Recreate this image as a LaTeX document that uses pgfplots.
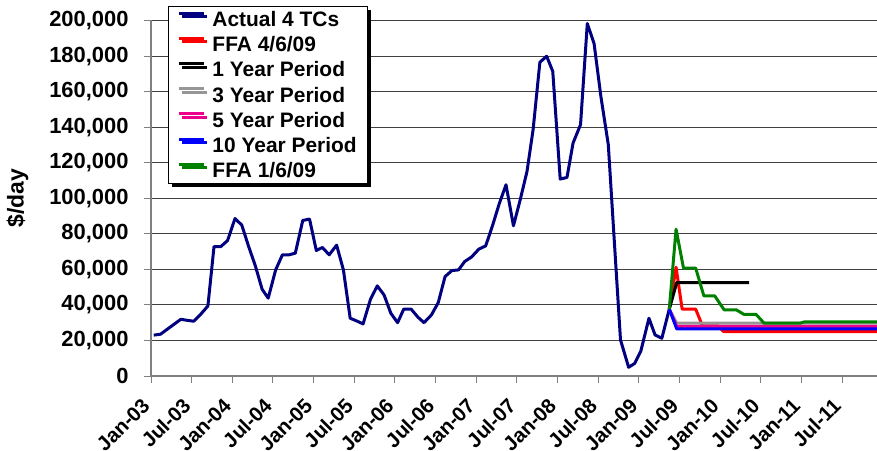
\documentclass[border=0pt]{standalone}
\usepackage{fontspec}
\setmainfont{Liberation Sans}
\usepackage{pgfplots}
\pgfplotsset{compat=1.18}
\usetikzlibrary{shadows}
\definecolor{navyc}{RGB}{0,0,128}
\definecolor{grayc}{RGB}{150,150,150}
\definecolor{greenc}{RGB}{0,128,0}
\definecolor{axisgray}{RGB}{128,128,128}
\begin{document}
\begin{tikzpicture}
\useasboundingbox (0,0) rectangle (877bp,451bp);
\begin{axis}[
  at={(151bp,75bp)}, anchor=south west,
  scale only axis, width=726bp, height=355.5bp,
  xmin=0, xmax=107.16, ymin=0, ymax=200000,
  axis x line*=bottom, axis y line*=left,
  axis line style={-, draw=axisgray, line width=1.2bp},
  xtick={0,6,...,102},
  xticklabels={Jan-03,Jul-03,Jan-04,Jul-04,Jan-05,Jul-05,Jan-06,Jul-06,Jan-07,Jul-07,Jan-08,Jul-08,Jan-09,Jul-09,Jan-10,Jul-10,Jan-11,Jul-11},
  ytick={0,20000,...,200000},
  scaled y ticks=false,
  /pgf/number format/assume math mode=true,
  tick label style={font=\fontsize{22}{26}\selectfont\bfseries},
  yticklabel style={xshift=-12bp, /pgf/number format/.cd, fixed, 1000 sep={,}},
  xticklabel style={rotate=45, anchor=east, xshift=-13.5bp, yshift=-10bp, font=\fontsize{20.5}{24}\selectfont\bfseries},
  tick align=outside, major tick length=7bp,
  tick style={draw=axisgray, line width=1bp},
  ymajorgrids, major grid style={draw=black!75, line width=0.9bp},
  ylabel={\$/day},
  ylabel style={at={(axis description cs:-0.1839,0.5)}, anchor=center, font=\fontsize{23}{27}\selectfont\bfseries},
  legend style={at={(axis description cs:0.0234,1.0408)}, anchor=north west,
    draw=black, line width=1bp, fill=white,
    font=\fontsize{21}{25}\selectfont\bfseries,
    inner xsep=9bp, inner ysep=3bp, row sep=4.5bp, column sep=5bp,
    general shadow={fill=black, shadow xshift=3.5bp, shadow yshift=-3.5bp}},
  legend cell align=left,
  legend image code/.code={\draw[#1, line width=3bp] (0bp,6.5bp) -- (25bp,6.5bp);},
  every axis plot/.append style={line width=3bp, line join=round, mark=none},
]
\addplot[navyc] coordinates {
(0.4,23000) (1.4,23500) (2.4,26300) (3.4,29100) (4.4,31900) (5.4,31300) (6.3,30800)
(7.4,35000) (8.4,39400) (9.3,72800) (10.3,72800) (11.3,76200) (12.4,88600) (13.4,84900)
(14.4,73000) (15.4,62000) (16.4,48800) (17.3,43800) (18.4,59700) (19.4,68200) (20.4,68200)
(21.3,69100) (22.4,87500) (23.4,88300) (24.4,70600) (25.3,72300) (26.3,68200) (27.4,73600)
(28.4,59700) (29.4,32500) (30.4,30900) (31.3,29300) (32.4,43200) (33.4,50700) (34.4,45600)
(35.4,35300) (36.4,30000) (37.3,37600) (38.4,37600) (39.4,33100) (40.3,30000) (41.4,34400)
(42.4,41300) (43.4,55900) (44.4,59300) (45.4,59700) (46.3,64400) (47.3,66900) (48.4,71400)
(49.4,73200) (50.4,84500) (51.4,96900) (52.4,107600) (53.5,84500) (54.5,99200) (55.5,115100)
(56.4,138600) (57.4,176500) (58.4,179900) (59.3,171400) (60.4,110800) (61.4,111700) (62.3,131100)
(63.4,141400) (64.4,198300) (65.4,187000) (66.4,157400) (67.5,130100) (68.4,75000) (69.3,20300)
(70.5,4900) (71.4,7100) (72.3,14000) (73.5,32500) (74.4,23100) (75.4,21200) (76.5,37600)
};
\addlegendentry{Actual 4 TCs}
\addplot[red] coordinates {
(76.5,37600) (77.5,61200) (78.4,37600) (80.4,37600) (81.4,28200) (83.7,28200) (84.5,25000) (107.2,25000)
};
\addlegendentry{FFA 4/6/09}
\addplot[black] coordinates {
(76.5,37600) (77.6,52600) (88.3,52600)
};
\addlegendentry{1 Year Period}
\addplot[grayc] coordinates {
(76.5,37600) (77.6,29700) (107.2,29700)
};
\addlegendentry{3 Year Period}
\addplot[magenta] coordinates {
(76.5,37600) (77.6,27900) (107.2,27900)
};
\addlegendentry{5 Year Period}
\addplot[blue] coordinates {
(76.5,37600) (77.6,26500) (107.2,26500)
};
\addlegendentry{10 Year Period}
\addplot[greenc] coordinates {
(76.5,37600) (77.5,82600) (78.6,60700) (80.4,60700) (81.6,45100) (83.2,45100) (84.6,37200)
(86.4,37200) (87.5,34700) (89.3,34700) (90.5,29700) (95.8,29700) (96.4,30400) (107.2,30400)
};
\addlegendentry{FFA 1/6/09}
\end{axis}
\end{tikzpicture}
\end{document}
